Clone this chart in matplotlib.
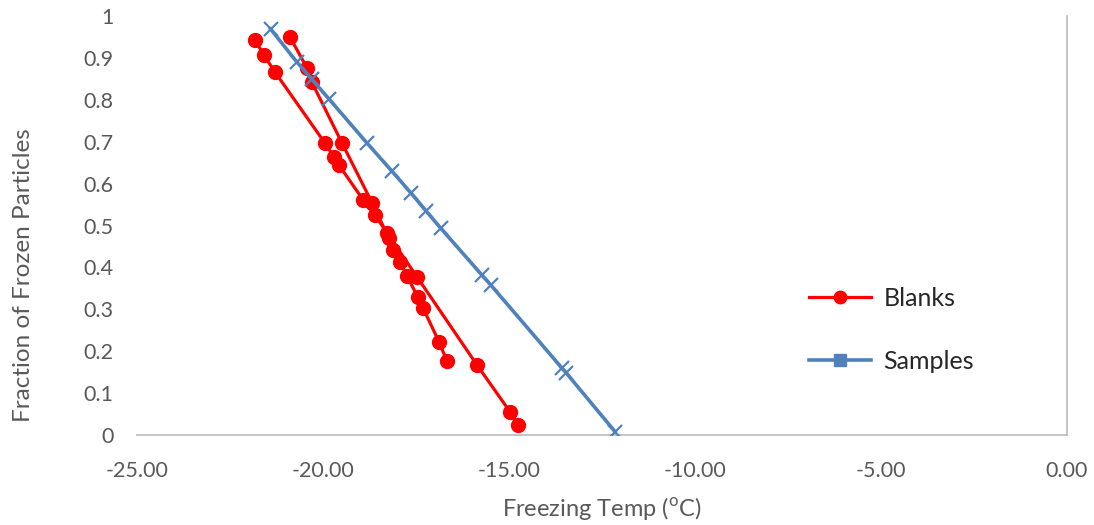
import matplotlib
matplotlib.use("Agg")
import matplotlib.pyplot as plt
from matplotlib.lines import Line2D
from matplotlib.ticker import FormatStrFormatter, MultipleLocator

plt.rcParams['font.family'] = ['Lato', 'DejaVu Sans']

# blanks were measured in two runs, each drawn as its own line
blank_temp_1 = [-21.83, -21.59, -21.29, -19.95, -19.70, -19.57, -18.92,
                -18.60, -18.28, -17.47, -15.86, -14.97, -14.76]
blank_frac_1 = [0.943, 0.907, 0.866, 0.697, 0.663, 0.644, 0.561,
                0.525, 0.482, 0.377, 0.167, 0.055, 0.024]
blank_temp_2 = [-20.89, -20.43, -20.30, -19.49, -18.68, -18.23, -18.12,
                -17.93, -17.74, -17.45, -17.31, -16.88, -16.67]
blank_frac_2 = [0.950, 0.876, 0.842, 0.697, 0.554, 0.470, 0.442,
                0.413, 0.379, 0.329, 0.303, 0.222, 0.177]

sample_temp = [-21.41, -20.71, -20.30, -19.83, -18.81, -18.15, -17.63,
               -17.23, -16.83, -15.73, -15.49, -13.57, -13.47, -12.15]
sample_frac = [0.969, 0.891, 0.849, 0.801, 0.696, 0.630, 0.577,
               0.535, 0.493, 0.382, 0.358, 0.159, 0.149, 0.008]

y_ticks = [0, .1, .2, .3, .4, .5, .6, .7, .8, .9, 1]
y_tick_labels = ['0', '0.1', '0.2', '0.3', '0.4', '0.5', '0.6', '0.7', '0.8', '0.9', '1']

red = '#FF0000'
blue = '#4F81BD'
grey = '#BFBFBF'
label_col = '#595959'

fig = plt.figure(figsize=(10.94, 5.25), dpi=100)
ax = fig.add_axes([137/1094, 1 - 435/525, 930/1094, 419/525])

for t, f in [(blank_temp_1, blank_frac_1), (blank_temp_2, blank_frac_2)]:
    ax.plot(t, f, color=red, lw=2.3, marker='o', markersize=10, zorder=3)
ax.plot(sample_temp, sample_frac, color=blue, lw=2.6, marker='x',
        markersize=10, markeredgewidth=1.6, zorder=4)

ax.set_xlim(-25, 0)
ax.set_ylim(0, 1)
ax.xaxis.set_major_locator(MultipleLocator(5))
ax.xaxis.set_major_formatter(FormatStrFormatter('%.2f'))
ax.set_yticks(y_ticks)
ax.set_yticklabels(y_tick_labels)

for s in ['top', 'left']:
    ax.spines[s].set_visible(False)
for s in ['bottom', 'right']:
    ax.spines[s].set_color(grey)
    ax.spines[s].set_linewidth(1.3)
ax.tick_params(axis='both', length=0, labelsize=15.5, colors=label_col)
ax.tick_params(axis='x', pad=19)
ax.tick_params(axis='y', pad=17)
for lab in ax.get_xticklabels() + ax.get_yticklabels():
    lab.set_clip_on(False)

ax.set_xlabel('Freezing Temp ($^{\\mathregular{o}}$C)', fontsize=17, color=label_col, labelpad=10)
ax.set_ylabel('Fraction of Frozen Particles', fontsize=17.5, color=label_col)
ax.yaxis.set_label_coords(-0.111, 0.382)

handles = [Line2D([], [], color=red, lw=2.3, marker='o', markersize=9),
           Line2D([], [], color=blue, lw=2.6, marker='s', markersize=8)]
ax.legend(handles, ['Blanks', 'Samples'], loc='center left',
          bbox_to_anchor=(786/1094, 1 - 330/525), bbox_transform=fig.transFigure,
          frameon=False, fontsize=18, handlelength=2.5, handletextpad=0.5,
          labelspacing=1.6, labelcolor='#262626')

fig.savefig('out.png', dpi=100)
